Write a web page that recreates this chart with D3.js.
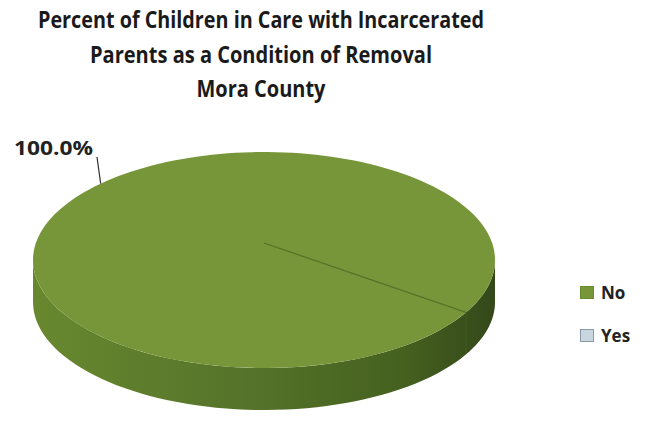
<!DOCTYPE html>
<html>
<head>
<meta charset="utf-8">
<script src="https://cdn.jsdelivr.net/npm/d3@7"></script>
<style>
  body { margin: 0; background: #fff; }
  text { font-family: "Open Sans", "Liberation Sans", sans-serif; }
</style>
</head>
<body>
<div id="chart"></div>
<script>
// data
const categories = ["No", "Yes"];
const values = [100.0, 0.0];
const colors = ["#77963a", "#c9d6e0"];
const titleLines = ["Percent of Children in Care with Incarcerated",
                    "Parents as a Condition of Removal",
                    "Mora County"];
const titleWidths = [446, 342, 129]; // measured line widths in the picture

const width = 654, height = 423;

let svg = d3.select("#chart")
    .append("svg")
    .attr("width", width)
    .attr("height", height)
    .attr("viewBox", [0, 0, width, height]);

// pie geometry (ellipse for the top face, depth for the wall)
const cx = 264, cy = 260, rx = 231, ry = 108, depth = 42;

let defs = svg.append("defs");
let grad = defs.append("linearGradient")
    .attr("id", "side")
    .attr("x1", "0%").attr("x2", "100%").attr("y1", "0%").attr("y2", "0%");
grad.append("stop").attr("offset", "0%").attr("stop-color", "#68882f");
grad.append("stop").attr("offset", "45%").attr("stop-color", "#56742a");
grad.append("stop").attr("offset", "80%").attr("stop-color", "#45611f");
grad.append("stop").attr("offset", "100%").attr("stop-color", "#34481a");

// d3 pie angles: 0 at 12 o'clock, clockwise
const start = 119 * Math.PI / 180;
const pie = d3.pie()
    .sort(null)
    .startAngle(start)
    .endAngle(start + 2 * Math.PI);

const arcs = pie(values);

const px = a => cx + rx * Math.sin(a);
const py = (a, dz = 0) => cy - ry * Math.cos(a) + dz;

// wall: front half is where -cos(a) > 0 ie a in (pi/2, 3pi/2)
function wallPath(a0, a1) {
    let segs = [];
    for (let k = -1; k <= 2; k++) {
        let lo = Math.PI / 2 + k * 2 * Math.PI, hi = 3 * Math.PI / 2 + k * 2 * Math.PI;
        let s = Math.max(a0, lo), e = Math.min(a1, hi);
        if (e > s) segs.push([s, e]);
    }
    return segs.map(([s, e]) => {
        let n = 60, p = [];
        for (let i = 0; i <= n; i++) { let a = s + (e - s) * i / n; p.push([px(a), py(a)]); }
        for (let i = n; i >= 0; i--) { let a = s + (e - s) * i / n; p.push([px(a), py(a, depth)]); }
        return "M" + p.map(q => q.join(",")).join("L") + "Z";
    }).join("");
}

function topPath(a0, a1) {
    let n = 180, p = [[cx, cy]];
    for (let i = 0; i <= n; i++) { let a = a0 + (a1 - a0) * i / n; p.push([px(a), py(a)]); }
    return "M" + p.map(q => q.join(",")).join("L") + "Z";
}

let g = svg.append("g");

g.selectAll(".wall")
    .data(arcs.filter(d => d.endAngle > d.startAngle))
    .join("path")
    .attr("class", "wall")
    .attr("d", d => wallPath(d.startAngle, d.endAngle))
    .attr("fill", "url(#side)");

// faint seam on the wall at the slice boundary
g.append("line")
    .attr("x1", px(start)).attr("y1", py(start))
    .attr("x2", px(start)).attr("y2", py(start, depth))
    .attr("stroke", "#4b6423").attr("stroke-width", 1).attr("opacity", 0.7);

g.selectAll(".top")
    .data(arcs.filter(d => d.endAngle > d.startAngle))
    .join("path")
    .attr("class", "top")
    .attr("d", d => topPath(d.startAngle, d.endAngle))
    .attr("fill", d => colors[d.index]);

// boundary line from centre to rim
g.append("line")
    .attr("x1", cx).attr("y1", cy - 17)
    .attr("x2", px(start)).attr("y2", py(start))
    .attr("stroke", "#55732a").attr("stroke-width", 1.3);

// data label with leader to upper-left rim
const la = -45 * Math.PI / 180;
svg.append("line")
    .attr("x1", 97).attr("y1", 157)
    .attr("x2", px(la)).attr("y2", py(la))
    .attr("stroke", "#333").attr("stroke-width", 1.2);
svg.append("text")
    .attr("x", 14).attr("y", 155)
    .attr("font-size", 20).attr("font-weight", "bold").attr("fill", "#222")
    .attr("textLength", 79).attr("lengthAdjust", "spacingAndGlyphs")
    .text(d3.format(".1f")(values[0]) + "%");

// title
svg.append("g").selectAll("text")
    .data(titleLines)
    .join("text")
    .attr("x", 261)
    .attr("y", (d, i) => 28 + i * 34.5)
    .attr("text-anchor", "middle")
    .attr("font-size", 22.5)
    .attr("font-weight", "bold")
    .attr("fill", "#1a1a1a")
    .attr("textLength", (d, i) => titleWidths[i])
    .attr("lengthAdjust", "spacingAndGlyphs")
    .text(d => d);

// legend
let leg = svg.append("g").selectAll("g")
    .data(categories)
    .join("g")
    .attr("transform", (d, i) => `translate(580, ${286 + i * 43})`);
leg.append("rect")
    .attr("x", 0.5).attr("y", 0.5)
    .attr("width", 13).attr("height", 12)
    .attr("fill", (d, i) => colors[i])
    .attr("stroke", (d, i) => i ? "#8a9aa8" : "#6a8a30");
leg.append("text")
    .attr("x", 21).attr("y", 12.5)
    .attr("font-size", 17).attr("font-weight", "bold").attr("fill", "#222")
    .text(d => d);
</script>
</body>
</html>
